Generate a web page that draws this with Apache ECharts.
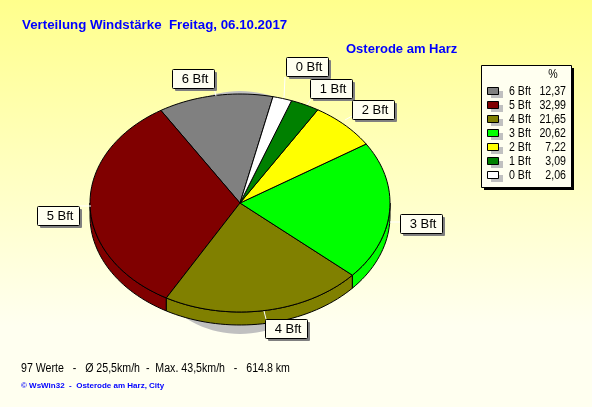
<!DOCTYPE html>
<html>
<head>
<meta charset="utf-8">
<style>
  html, body { margin: 0; padding: 0; background: #fff; }
  #chart { width: 592px; height: 407px; }
</style>
<script src="https://cdn.jsdelivr.net/npm/echarts@6/dist/echarts.min.js"></script>
</head>
<body>
<div id="chart"></div>
<script>
// Werte aus der Legende, Reihenfolge wie dort
var categories = ['6 Bft', '5 Bft', '4 Bft', '3 Bft', '2 Bft', '1 Bft', '0 Bft'];
var percentValues = [12.37, 32.99, 21.65, 20.62, 7.22, 3.09, 2.06];
var percentLabels = ['12,37', '32,99', '21,65', '20,62', '7,22', '3,09', '2,06'];
var sliceColors = ['#808080', '#800000', '#808000', '#00ff00', '#ffff00', '#008000', '#ffffff'];

var titleText = 'Verteilung Windstärke  Freitag, 06.10.2017';
var placeText = 'Osterode am Harz';
var statsText = '97 Werte   -   Ø 25,5km/h  -  Max. 43,5km/h   -   614.8 km';
var footerText = '© WsWin32  -  Osterode am Harz, City';

// Geometrie der gekippten Torte
var pie = { cx: 240, cy: 203, rx: 150, ry: 109, depth: 13, start: 12.7 };

// Box links/oben und Haltelinie je Kategorie
var labelBoxes = {
  '6 Bft': { x: 172, y: 69, line: [214, 88, 216, 96] },
  '5 Bft': { x: 37, y: 206, line: [79, 206, 91, 206] },
  '4 Bft': { x: 265, y: 319, line: [264, 311, 266, 319] },
  '3 Bft': { x: 400, y: 214, line: [390, 222, 400, 222] },
  '2 Bft': { x: 352, y: 100, line: [345, 120, 352, 116] },
  '1 Bft': { x: 310, y: 79, line: [311, 99, 307, 105] },
  '0 Bft': { x: 286, y: 57, line: [285, 77, 284, 98] }
};

function sliceRange(index) {
  var total = percentValues.reduce(function (a, b) { return a + b; }, 0);
  var before = 0;
  for (var i = 0; i < index; i++) before += percentValues[i];
  var t0 = pie.start - before / total * 360;
  return [t0, t0 - percentValues[index] / total * 360];
}

function arcPoint(deg, dy) {
  var a = deg * Math.PI / 180;
  return [pie.cx + pie.rx * Math.sin(a), pie.cy - pie.ry * Math.cos(a) + dy];
}

function arcPoints(from, to, dy) {
  var pts = [];
  var n = Math.max(2, Math.ceil(Math.abs(to - from) / 2));
  for (var i = 0; i <= n; i++) pts.push(arcPoint(from + (to - from) * i / n, dy));
  return pts;
}

function renderTop(params, api) {
  var r = sliceRange(params.dataIndex);
  var pts = [[pie.cx, pie.cy]].concat(arcPoints(r[0], r[1], 0));
  return {
    type: 'polygon',
    shape: { points: pts },
    style: { fill: sliceColors[params.dataIndex], stroke: '#000', lineWidth: 1 }
  };
}

// Seitenwand: nur der vordere Teil (Winkel -90 bis -270) ist sichtbar
function renderWall(params, api) {
  var r = sliceRange(params.dataIndex);
  var from = Math.min(r[0], -90);
  var to = Math.max(r[1], -270);
  if (from <= to) return null;
  var pts = arcPoints(from, to, 0).concat(arcPoints(to, from, pie.depth));
  return {
    type: 'polygon',
    shape: { points: pts },
    style: { fill: sliceColors[params.dataIndex], stroke: '#000', lineWidth: 1 }
  };
}

// schmale Schrift wie im Original: 12px, horizontal gestaucht
function narrowText(x, y, text, align, fill, z) {
  return {
    type: 'text', z: z, x: x, y: y, scaleX: 0.885,
    style: { x: 0, y: 0, text: text, fill: fill, align: align, verticalAlign: 'middle', font: '12px "Liberation Sans"' }
  };
}

function buildLabels() {
  var items = [];
  categories.forEach(function (name) {
    var b = labelBoxes[name];
    items.push({ type: 'rect', z: 20, shape: { x: b.x + 3, y: b.y + 3, width: 42, height: 19, r: 1 }, style: { fill: '#808080' } });
    items.push({ type: 'rect', z: 21, shape: { x: b.x + 0.5, y: b.y + 0.5, width: 42, height: 19, r: 1 }, style: { fill: '#fffff0', stroke: '#000', lineWidth: 1 } });
    items.push({ type: 'text', z: 22, style: { x: b.x + 23, y: b.y + 10.5, text: name, fill: '#000', align: 'center', verticalAlign: 'middle', font: '13px "Liberation Sans"' } });
    items.push({ type: 'line', z: 5, shape: { x1: b.line[0], y1: b.line[1], x2: b.line[2], y2: b.line[3] }, style: { stroke: '#fff', lineWidth: 1 } });
  });
  return items;
}

function buildLegend() {
  var left = 481, top = 65;
  var items = [
    { type: 'rect', z: 20, shape: { x: left + 3, y: top + 3, width: 90, height: 122 }, style: { fill: '#000' } },
    { type: 'rect', z: 21, shape: { x: left + 0.5, y: top + 0.5, width: 90, height: 122 }, style: { fill: '#fffff0', stroke: '#000', lineWidth: 1 } },
    narrowText(553, 75, '%', 'center', '#000', 22)
  ];
  categories.forEach(function (name, i) {
    var y = 91 + i * 14;
    items.push({ type: 'rect', z: 22, shape: { x: 491, y: y, width: 12, height: 7 }, style: { fill: '#c0c0c0' } });
    items.push({ type: 'rect', z: 23, shape: { x: 487.5, y: y - 3.5, width: 11, height: 7 }, style: { fill: sliceColors[i], stroke: '#000', lineWidth: 1 } });
    items.push(narrowText(509, y + 0.5, name, 'left', '#000', 23));
    items.push(narrowText(566, y + 0.5, percentLabels[i], 'right', '#000', 23));
  });
  return items;
}

var chart = echarts.init(document.getElementById('chart'), null, { renderer: 'canvas' });
chart.setOption({
  animation: false,
  backgroundColor: {
    type: 'linear', x: 0, y: 0, x2: 0, y2: 1,
    colorStops: [{ offset: 0, color: '#ffff8c' }, { offset: 0.8, color: '#fffff0' }, { offset: 1, color: '#fffff0' }]
  },
  title: [
    { text: titleText, left: 22, top: 19, padding: 0, textStyle: { color: '#0000ff', fontFamily: 'Liberation Sans', fontSize: 13.3, fontWeight: 'bold' } },
    { text: placeText, left: 346, top: 43, padding: 0, textStyle: { color: '#0000ff', fontFamily: 'Liberation Sans', fontSize: 13, fontWeight: 'bold' } }
  ],
  graphic: [
    { type: 'ellipse', z: 0, shape: { cx: 240, cy: 212.5, rx: 110, ry: 121.5 }, style: { fill: '#c0c0c0' } },
    narrowText(21, 369, statsText, 'left', '#000', 1),
    { type: 'text', style: { x: 21, y: 386, text: footerText, fill: '#0000ff', verticalAlign: 'middle', font: 'bold 8px "Liberation Sans"' } }
  ].concat(buildLabels(), buildLegend()),
  series: [
    { type: 'custom', z: 2, coordinateSystem: 'none', silent: true, renderItem: renderWall, data: percentValues },
    { type: 'custom', z: 3, coordinateSystem: 'none', silent: true, renderItem: renderTop, data: percentValues }
  ]
});
</script>
</body>
</html>
